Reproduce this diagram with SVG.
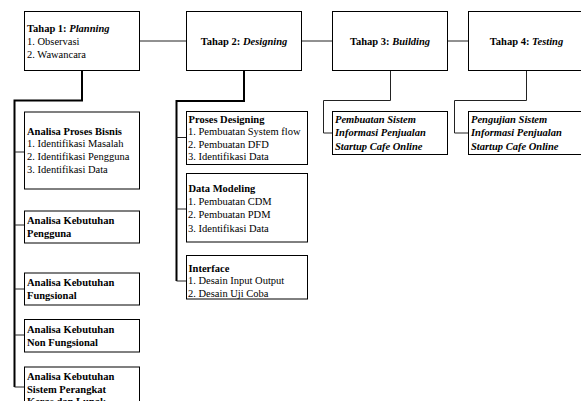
<svg xmlns="http://www.w3.org/2000/svg" width="581" height="401" viewBox="0 0 581 401">
<style>
text{font-family:"Liberation Serif","Times New Roman",serif;font-size:10.5px;fill:#000}
.b{font-weight:bold}
.i{font-style:italic}
.c{text-anchor:middle}
rect{fill:#fff;stroke:#000;stroke-width:1}
.thin{fill:none;stroke:#222;stroke-width:1}
.thick{fill:none;stroke:#000;stroke-width:2}
</style>
<rect x="0" y="0" width="581" height="401" style="stroke:none;fill:#fff"/>
<g id="connectors">
<path class="thin" d="M139.5 41H186.5M301.5 41H332.5M447.5 41H468.5"/>
<path class="thick" d="M82 70.5V100.5H14.5V387"/>
<path class="thin" d="M14.5 152H24.5M14.5 225H24.5M14.5 289H24.5M14.5 335H24.5M14.5 387H24.5"/>
<path class="thick" d="M244 70.5V101H176.5V281"/>
<path class="thin" d="M176.5 137.5H186.5M176.5 209H186.5M176.5 281H186.5"/>
<path class="thin" d="M390.5 70.5V100.5H323.5V133H332.5"/>
<path class="thin" d="M526.5 70.5V100.5H454.5V133H468.5"/>
</g>
<g id="tahap1">
<rect x="24.5" y="11.5" width="115" height="59"/>
<text x="27" y="31.5" class="b">Tahap 1: <tspan class="i">Planning</tspan></text>
<text x="27" y="44.5">1. Observasi</text>
<text x="27" y="57.5">2. Wawancara</text>
</g>
<g id="tahap2">
<rect x="186.5" y="11.5" width="115" height="59"/>
<text x="244" y="44.5" class="b c">Tahap 2: <tspan class="i">Designing</tspan></text>
</g>
<g id="tahap3">
<rect x="332.5" y="11.5" width="115" height="59"/>
<text x="390" y="44.5" class="b c">Tahap 3: <tspan class="i">Building</tspan></text>
</g>
<g id="tahap4">
<rect x="468.5" y="11.5" width="116" height="59"/>
<text x="526.5" y="44.5" class="b c">Tahap 4: <tspan class="i">Testing</tspan></text>
</g>
<g id="analisa-proses-bisnis">
<rect x="24.5" y="112" width="115" height="77"/>
<text x="27" y="134.5" class="b">Analisa Proses Bisnis</text>
<text x="27" y="147.3">1. Identifikasi Masalah</text>
<text x="27" y="160.1">2. Identifikasi Pengguna</text>
<text x="27" y="172.9">3. Identifikasi Data</text>
</g>
<g id="analisa-kebutuhan-pengguna">
<rect x="24.5" y="211" width="115" height="32"/>
<text x="27" y="223.5" class="b">Analisa Kebutuhan</text>
<text x="27" y="237" class="b">Pengguna</text>
</g>
<g id="analisa-kebutuhan-fungsional">
<rect x="24.5" y="273" width="115" height="32"/>
<text x="27" y="285.5" class="b">Analisa Kebutuhan</text>
<text x="27" y="299" class="b">Fungsional</text>
</g>
<g id="analisa-kebutuhan-non-fungsional">
<rect x="24.5" y="319.5" width="115" height="32.5"/>
<text x="27" y="332.7" class="b">Analisa Kebutuhan</text>
<text x="27" y="346" class="b">Non Fungsional</text>
</g>
<g id="analisa-kebutuhan-sistem">
<rect x="24.5" y="367" width="115" height="50"/>
<text x="27" y="380" class="b">Analisa Kebutuhan</text>
<text x="27" y="392.7" class="b">Sistem Perangkat</text>
<text x="27" y="404.5" class="b">Keras dan Lunak</text>
</g>
<g id="proses-designing">
<rect x="186.5" y="111.5" width="121" height="53"/>
<text x="188.5" y="122.5" class="b">Proses Designing</text>
<text x="188" y="135.2">1. Pembuatan System flow</text>
<text x="188" y="147.8">2. Pembuatan DFD</text>
<text x="188" y="160.3">3. Identifikasi Data</text>
</g>
<g id="data-modeling">
<rect x="186.5" y="173.5" width="121" height="68.5"/>
<text x="188.5" y="192.3" class="b">Data Modeling</text>
<text x="188" y="205.2">1. Pembuatan CDM</text>
<text x="188" y="218.3">2. Pembuatan PDM</text>
<text x="188" y="231.5">3. Identifikasi Data</text>
</g>
<g id="interface">
<rect x="186.5" y="255.5" width="121" height="43.5"/>
<text x="188.5" y="271.5" class="b">Interface</text>
<text x="188" y="284.3">1. Desain Input Output</text>
<text x="188" y="297">2. Desain Uji Coba</text>
</g>
<g id="pembuatan-sistem">
<rect x="332.5" y="111.5" width="115" height="43"/>
<text x="335" y="122.5" class="b i">Pembuatan Sistem</text>
<text x="335" y="136" class="b i">Informasi Penjualan</text>
<text x="335" y="149.5" class="b i">Startup Cafe Online</text>
</g>
<g id="pengujian-sistem">
<rect x="468.5" y="111.5" width="116" height="43"/>
<text x="471" y="122.5" class="b i">Pengujian Sistem</text>
<text x="471" y="136" class="b i">Informasi Penjualan</text>
<text x="471" y="149.5" class="b i">Startup Cafe Online</text>
</g>
</svg>
